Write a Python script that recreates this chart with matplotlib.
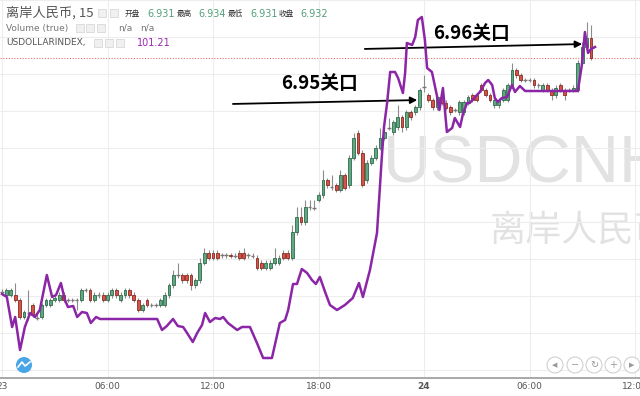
import matplotlib
matplotlib.use('Agg')
import matplotlib.pyplot as plt
import numpy as np
from matplotlib.patches import Rectangle, Circle

# USDCNH 15-minute candles, 23 Nov 00:00 onwards (index = number of 15-min bars)
opens = [6.9108, 6.9105, 6.9105, 6.9105, 6.9100, 6.9083, 6.9087, 6.9095, 6.9082, 6.9083,
         6.9095, 6.9095, 6.9100, 6.9100, 6.9105, 6.9100, 6.9100, 6.9100, 6.9100, 6.9110,
         6.9110, 6.9100, 6.9105, 6.9105, 6.9100, 6.9105, 6.9110, 6.9100, 6.9105, 6.9110,
         6.9105, 6.9100, 6.9090, 6.9100, 6.9095, 6.9095, 6.9095, 6.9095, 6.9105, 6.9115,
         6.9125, 6.9125, 6.9125, 6.9125, 6.9115, 6.9120, 6.9137, 6.9147, 6.9147, 6.9147,
         6.9145, 6.9145, 6.9145, 6.9144, 6.9147, 6.9147, 6.9145, 6.9144, 6.9142, 6.9137,
         6.9132, 6.9132, 6.9137, 6.9137, 6.9147, 6.9147, 6.9142, 6.9168, 6.9183, 6.9178,
         6.9193, 6.9192, 6.9200, 6.9205, 6.9220, 6.9213, 6.9215, 6.9210, 6.9225, 6.9215,
         6.9242, 6.9267, 6.9247, 6.9220, 6.9237, 6.9242, 6.9252, 6.9262, 6.9272, 6.9268,
         6.9273, 6.9283, 6.9273, 6.9288, 6.9288, 6.9293, 6.9313, 6.9305, 6.9300, 6.9293,
         6.9303, 6.9297, 6.9293, 6.9290, 6.9288, 6.9288, 6.9297, 6.9305, 6.9305, 6.9315,
         6.9310, 6.9305, 6.9295, 6.9295, 6.9300, 6.9300, 6.9315, 6.9330, 6.9325, 6.9320,
         6.9320, 6.9320, 6.9315, 6.9310, 6.9315, 6.9310, 6.9305, 6.9315, 6.9310, 6.9310,
         6.9310, 6.9310, 6.9337, 6.9353, 6.9362]
closes = [6.9108, 6.9110, 6.9110, 6.9100, 6.9083, 6.9088, 6.9087, 6.9085, 6.9082, 6.9095,
          6.9100, 6.9100, 6.9102, 6.9105, 6.9100, 6.9100, 6.9100, 6.9100, 6.9110, 6.9110,
          6.9100, 6.9105, 6.9105, 6.9100, 6.9105, 6.9110, 6.9105, 6.9105, 6.9110, 6.9105,
          6.9100, 6.9090, 6.9095, 6.9095, 6.9095, 6.9095, 6.9100, 6.9105, 6.9115, 6.9125,
          6.9125, 6.9120, 6.9120, 6.9115, 6.9120, 6.9137, 6.9147, 6.9142, 6.9142, 6.9142,
          6.9145, 6.9145, 6.9144, 6.9144, 6.9142, 6.9142, 6.9145, 6.9144, 6.9132, 6.9132,
          6.9137, 6.9137, 6.9142, 6.9142, 6.9142, 6.9142, 6.9168, 6.9183, 6.9178, 6.9193,
          6.9193, 6.9192, 6.9205, 6.9220, 6.9215, 6.9213, 6.9210, 6.9225, 6.9212, 6.9242,
          6.9262, 6.9247, 6.9215, 6.9237, 6.9242, 6.9252, 6.9262, 6.9268, 6.9272, 6.9278,
          6.9283, 6.9273, 6.9288, 6.9283, 6.9293, 6.9310, 6.9313, 6.9300, 6.9293, 6.9303,
          6.9297, 6.9292, 6.9288, 6.9290, 6.9298, 6.9298, 6.9303, 6.9300, 6.9300, 6.9310,
          6.9305, 6.9300, 6.9300, 6.9300, 6.9310, 6.9315, 6.9330, 6.9325, 6.9320, 6.9320,
          6.9320, 6.9315, 6.9315, 6.9315, 6.9310, 6.9305, 6.9312, 6.9310, 6.9305, 6.9310,
          6.9312, 6.9337, 6.9353, 6.9362, 6.9342]
highs = [6.9111, 6.9112, 6.9112, 6.9117, 6.9102, 6.9090, 6.9110, 6.9097, 6.9088, 6.9097,
         6.9102, 6.9102, 6.9105, 6.9108, 6.9108, 6.9102, 6.9102, 6.9102, 6.9112, 6.9112,
         6.9112, 6.9108, 6.9108, 6.9108, 6.9108, 6.9112, 6.9112, 6.9108, 6.9112, 6.9112,
         6.9108, 6.9102, 6.9097, 6.9102, 6.9097, 6.9097, 6.9102, 6.9108, 6.9117, 6.9130,
         6.9137, 6.9127, 6.9127, 6.9127, 6.9122, 6.9142, 6.9152, 6.9150, 6.9150, 6.9150,
         6.9147, 6.9147, 6.9147, 6.9147, 6.9150, 6.9152, 6.9147, 6.9147, 6.9145, 6.9140,
         6.9140, 6.9140, 6.9152, 6.9145, 6.9150, 6.9150, 6.9175, 6.9193, 6.9193, 6.9200,
         6.9200, 6.9200, 6.9208, 6.9230, 6.9222, 6.9225, 6.9217, 6.9230, 6.9227, 6.9245,
         6.9267, 6.9270, 6.9250, 6.9240, 6.9245, 6.9255, 6.9272, 6.9272, 6.9282, 6.9280,
         6.9295, 6.9285, 6.9290, 6.9290, 6.9295, 6.9312, 6.9325, 6.9307, 6.9302, 6.9305,
         6.9305, 6.9300, 6.9295, 6.9292, 6.9300, 6.9300, 6.9305, 6.9307, 6.9307, 6.9317,
         6.9312, 6.9307, 6.9302, 6.9302, 6.9312, 6.9317, 6.9337, 6.9332, 6.9327, 6.9322,
         6.9322, 6.9322, 6.9317, 6.9317, 6.9317, 6.9312, 6.9315, 6.9317, 6.9312, 6.9312,
         6.9315, 6.9340, 6.9358, 6.9378, 6.9375]
lows = [6.9105, 6.9103, 6.9103, 6.9098, 6.9081, 6.9081, 6.9080, 6.9083, 6.9080, 6.9081,
        6.9093, 6.9093, 6.9098, 6.9098, 6.9098, 6.9098, 6.9098, 6.9090, 6.9098, 6.9108,
        6.9098, 6.9098, 6.9102, 6.9098, 6.9098, 6.9102, 6.9102, 6.9098, 6.9102, 6.9102,
        6.9098, 6.9088, 6.9088, 6.9093, 6.9093, 6.9093, 6.9093, 6.9093, 6.9102, 6.9112,
        6.9122, 6.9117, 6.9117, 6.9110, 6.9112, 6.9117, 6.9135, 6.9140, 6.9140, 6.9140,
        6.9142, 6.9142, 6.9142, 6.9142, 6.9140, 6.9140, 6.9142, 6.9142, 6.9130, 6.9130,
        6.9130, 6.9130, 6.9135, 6.9135, 6.9140, 6.9140, 6.9140, 6.9165, 6.9175, 6.9175,
        6.9190, 6.9190, 6.9198, 6.9202, 6.9212, 6.9210, 6.9208, 6.9208, 6.9210, 6.9212,
        6.9240, 6.9245, 6.9213, 6.9217, 6.9235, 6.9240, 6.9250, 6.9260, 6.9270, 6.9265,
        6.9270, 6.9268, 6.9270, 6.9280, 6.9285, 6.9290, 6.9308, 6.9298, 6.9290, 6.9290,
        6.9295, 6.9290, 6.9285, 6.9288, 6.9285, 6.9285, 6.9295, 6.9298, 6.9298, 6.9308,
        6.9303, 6.9298, 6.9292, 6.9292, 6.9298, 6.9298, 6.9312, 6.9322, 6.9318, 6.9318,
        6.9318, 6.9312, 6.9312, 6.9308, 6.9308, 6.9300, 6.9302, 6.9308, 6.9300, 6.9308,
        6.9308, 6.9308, 6.9335, 6.9350, 6.9340]

# USDOLLARINDEX overlay (time in 15-min bars, value)
usd_t = [0.0, 1.1, 2.3, 3.0, 4.1, 5.2, 6.4, 7.5, 8.6, 10.2, 11.4, 12.3, 13.4, 14.3, 15.0,
         16.2, 17.1, 18.2, 19.3, 20.2, 21.4, 22.3, 35.3, 36.4, 37.5, 38.9, 40.0, 41.2, 42.1,
         43.4, 44.4, 45.5, 46.2, 47.3, 48.5, 49.6, 50.3, 51.4, 53.5, 54.6, 56.4, 58.0, 59.4,
         61.4, 63.2, 64.4, 65.1, 66.2, 67.1, 68.2, 69.4, 70.5, 71.4, 72.3, 73.5, 74.6, 76.2,
         78.0, 79.8, 81.2, 82.1, 83.7, 85.3, 86.4, 86.9, 87.6, 88.3, 89.4, 90.1, 91.2, 91.7,
         92.1, 93.3, 94.0, 94.6, 95.5, 96.2, 96.7, 97.8, 99.0, 99.5, 100.3, 101.2, 102.4,
         103.0, 104.2, 104.9, 105.8, 106.4, 107.6, 108.7, 109.9, 110.6, 111.5, 112.1, 112.8,
         113.7, 114.9, 116.0, 116.7, 117.8, 119.0, 131.0, 131.9, 132.6, 133.3, 134.0, 134.9]
usd_v = [100.963, 100.960, 100.930, 100.940, 100.907, 100.930, 100.944, 100.940, 100.947,
         100.982, 100.960, 100.962, 100.974, 100.957, 100.950, 100.951, 100.940, 100.945,
         100.944, 100.934, 100.940, 100.938, 100.938, 100.927, 100.931, 100.938, 100.931,
         100.930, 100.924, 100.915, 100.924, 100.932, 100.944, 100.935, 100.939, 100.938,
         100.940, 100.934, 100.927, 100.930, 100.930, 100.914, 100.899, 100.899, 100.934,
         100.937, 100.947, 100.973, 100.973, 100.988, 100.984, 100.977, 100.973, 100.980,
         100.965, 100.952, 100.947, 100.952, 100.959, 100.974, 100.960, 100.987, 101.024,
         101.100, 101.130, 101.154, 101.185, 101.185, 101.179, 101.164, 101.184, 101.214,
         101.212, 101.220, 101.237, 101.240, 101.217, 101.189, 101.185, 101.160, 101.147,
         101.169, 101.125, 101.129, 101.139, 101.130, 101.144, 101.154, 101.154, 101.160,
         101.165, 101.174, 101.177, 101.172, 101.159, 101.155, 101.159, 101.160, 101.172,
         101.165, 101.171, 101.166, 101.166, 101.192, 101.225, 101.204, 101.208, 101.210]

tick_pos = [0, 24, 48, 72, 96, 120, 144]
tick_lab = ['23', '06:00', '12:00', '18:00', '24', '06:00', '12:00']

cjk = ['Noto Sans CJK SC', 'DejaVu Sans']

fig = plt.figure(figsize=(6.4, 3.96), dpi=100)
ax = fig.add_axes([0, 18 / 396, 1, 378 / 396])

o = np.array(opens)
c = np.array(closes)
x = np.arange(len(o))
up = c > o
dn = c < o
dj = c == o

ax.vlines(x, lows, highs, color='#8c8c8c', lw=0.8, zorder=2)
ax.bar(x[up], (c - o)[up], bottom=o[up], width=0.64, color='#5fa882',
       edgecolor='#2f6a4b', lw=0.6, zorder=3)
ax.bar(x[dn], (o - c)[dn], bottom=c[dn], width=0.64, color='#d6534a',
       edgecolor='#8b2a20', lw=0.6, zorder=3)
ax.hlines(c[dj], x[dj] - 0.4, x[dj] + 0.4, color='#777777', lw=1.0, zorder=3)

ax.axhline(closes[-1], color='#e57373', ls=(0, (1, 1.5)), lw=0.8, zorder=1)

ax.set_xlim(-0.455, 145.13)
ax.set_ylim(6.9022, 6.9400)
ax.set_xticks(tick_pos)
ax.set_xticklabels(tick_lab)
ax.set_yticks(np.arange(6.9030, 6.9400, 0.0037))
ax.tick_params(axis='y', length=0, labelleft=False)
ax.tick_params(axis='x', length=0, pad=3, labelsize=6.5, colors='#555555')
ax.get_xticklabels()[4].set_fontweight('bold')
ax.grid(True, color='#ededed', lw=0.8, zorder=0)
for s in ['top', 'left', 'right']:
    ax.spines[s].set_visible(False)
ax.spines['bottom'].set_color('#9a9a9a')
ax.spines['bottom'].set_linewidth(1.2)

# watermark
ax.text(383 / 640, 1 - 166 / 378, 'USDCNH', transform=ax.transAxes, fontsize=48,
        color='#e2e2e2', ha='left', va='center', family='Liberation Sans', zorder=0.5)
ax.text(490 / 640, 1 - 232 / 378, '离岸人民币', transform=ax.transAxes, fontsize=26,
        color='#e2e2e2', ha='left', va='center', family=cjk, zorder=0.5)

# annotations
ax.annotate('', xy=(95.1, 6.9300), xytext=(51.9, 6.9296),
            arrowprops=dict(arrowstyle='-|>', color='black', lw=1.3, mutation_scale=10), zorder=6)
ax.text(72.3, 6.9317, '6.95关口', ha='center', va='center', fontsize=13.5,
        fontweight='bold', family=cjk, zorder=6)
ax.annotate('', xy=(132.6, 6.9356), xytext=(81.9, 6.9351),
            arrowprops=dict(arrowstyle='-|>', color='black', lw=1.3, mutation_scale=10), zorder=6)
ax.text(106.9, 6.9367, '6.96关口', ha='center', va='center', fontsize=13.5,
        fontweight='bold', family=cjk, zorder=6)

# dollar index overlay
ax2 = ax.twinx()
ax2.plot(usd_t, usd_v, color='#8b26a6', lw=1.8, zorder=5)
ax2.set_ylim(100.879, 101.257)
ax2.set_xlim(-0.455, 145.13)
ax2.axis('off')

# header and controls, in pixel coordinates
ov = fig.add_axes([0, 0, 1, 1])
ov.set_xlim(0, 640)
ov.set_ylim(396, 0)
ov.axis('off')

ov.text(6, 13, '离岸人民币, 15', fontsize=9.5, color='#555555', va='center', family=cjk)
for bx in [98, 110]:
    ov.add_patch(Rectangle((bx, 9), 8, 8, facecolor='#f0f0f0', edgecolor='#d8d8d8', lw=0.6))
lab_x = [125, 177, 228, 279]
val_x = [147, 198, 250, 300]
for lab, lx, val, vx in zip(['开盘', '最高', '最低', '收盘'], lab_x,
                            ['6.931', '6.934', '6.931', '6.932'], val_x):
    ov.text(lx, 14, lab, fontsize=5.5, color='#333333', va='center', family=cjk)
    ov.text(vx, 14, val, fontsize=7, color='#53a07a', va='center')

ov.text(6, 28, 'Volume (true)', fontsize=6.5, color='#777777', va='center')
for bx in [76, 86, 97]:
    ov.add_patch(Rectangle((bx, 24), 8, 8, facecolor='#f0f0f0', edgecolor='#d8d8d8', lw=0.6))
ov.text(118, 28, 'n/a', fontsize=6.5, color='#777777', va='center')
ov.text(140, 28, 'n/a', fontsize=6.5, color='#777777', va='center')

ov.text(6, 43, 'USDOLLARINDEX,', fontsize=6.5, color='#555555', va='center')
for bx in [94, 105, 116]:
    ov.add_patch(Rectangle((bx, 39), 8, 8, facecolor='#f0f0f0', edgecolor='#d8d8d8', lw=0.6))
ov.text(137, 43, '101.21', fontsize=7, color='#9c27b0', va='center')

for cx, g in zip([555, 575, 594, 613, 632], ['◀', '−', '↻', '+', '▶']):
    ov.add_patch(Circle((cx, 365), 8, facecolor='white', edgecolor='#d0d0d0', lw=0.8))
    ov.text(cx, 365, g, fontsize=5 if g in '◀▶' else 7, color='#9a9a9a',
            ha='center', va='center')

ov.add_patch(Circle((24, 365), 8, facecolor='#49a6e6', edgecolor='none'))
ov.plot([18, 22, 25, 30], [367, 362, 366, 362], color='white', lw=1.2)

fig.savefig('out.png', dpi=100)
